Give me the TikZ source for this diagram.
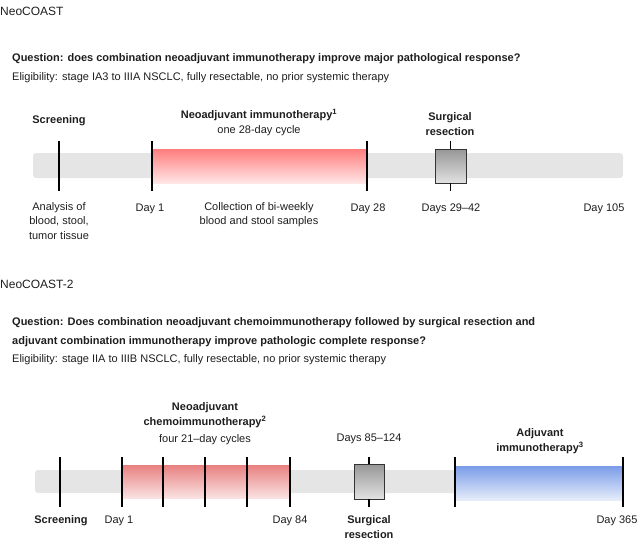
\documentclass[tikz,border=0pt]{standalone}
\usepackage{fontspec}
\setmainfont{Liberation Sans}
\usetikzlibrary{positioning}
\definecolor{barbg}{RGB}{229,229,229}
\definecolor{redtop}{RGB}{255,125,125}
\definecolor{redbot}{RGB}{255,230,230}
\definecolor{redtwotop}{RGB}{232,128,128}
\definecolor{redtwobot}{RGB}{250,226,226}
\definecolor{bluetop}{RGB}{122,156,232}
\definecolor{bluebot}{RGB}{230,237,250}
\definecolor{boxtop}{RGB}{150,150,150}
\definecolor{boxbot}{RGB}{226,226,226}
\definecolor{txt}{RGB}{30,30,30}

\begin{document}
\begin{tikzpicture}[x=1pt,y=-1pt,
  lbl/.style={font=\fontsize{11}{14.5}\selectfont,align=center,inner sep=0pt,text=txt},
  hd/.style={lbl,font=\bfseries\fontsize{11}{15}\selectfont},
  tick/.style={line width=1.8pt},
  stem/.style={line width=1.2pt},
  surgbox/.style={draw=black!80,line width=1pt,top color=boxtop,bottom color=boxbot}]
  \useasboundingbox (0,0) rectangle (642,543);
  % NeoCOAST
  \node[lbl,anchor=base west,font=\fontsize{12}{14}\selectfont] (title1) at (0,16) {NeoCOAST};
  \node[hd,anchor=base west] (quest1) at (12,61) {Question: does combination neoadjuvant immunotherapy improve major pathological response?};
  \node[lbl,anchor=base west] (elig1) at (12,81) {Eligibility: stage IA3 to IIIA NSCLC, fully resectable, no prior systemic therapy};
  \fill[barbg,rounded corners=3] (33,153) rectangle (623,178);
  \shade[top color=redtop,bottom color=redbot] (152,149) rectangle (367,183);
  \draw[surgbox] (435,149) rectangle (466,183);
  \draw[stem] (450.5,141) -- (450.5,149) (450.5,183) -- (450.5,191);
  \foreach \x in {59,152,367}
    \draw[tick] (\x,141) -- (\x,191);
  \node[hd,anchor=base] (scr1) at (59,123) {Screening};
  \node[hd,anchor=base] (neo1) at (259,118) {Neoadjuvant immunotherapy\textsuperscript{1}};
  \node[lbl,anchor=base] (cyc1) at (259,133) {one 28-day cycle};
  \node[hd,anchor=south] (surg1) at (450,136) {Surgical\\resection};
  \node[lbl,anchor=north] (ana1) at (59,202) {Analysis of\\blood, stool,\\tumor tissue};
  \node[lbl,anchor=base] (dayone1) at (150,211) {Day 1};
  \node[lbl,anchor=north] (coll1) at (259,202) {Collection of bi-weekly\\blood and stool samples};
  \node[lbl,anchor=base] (day28) at (368,211) {Day 28};
  \node[lbl,anchor=base] (days2942) at (451,211) {Days 29--42};
  \node[lbl,anchor=base] (day105) at (604,211) {Day 105};
  % NeoCOAST-2
  \node[lbl,anchor=base west,font=\fontsize{12}{14}\selectfont] (title2) at (0,288) {NeoCOAST-2};
  \node[hd,anchor=base west] (quest2) at (12,325) {Question: Does combination neoadjuvant chemoimmunotherapy followed by surgical resection and};
  \node[hd,anchor=base west] (quest2b) at (12,344) {adjuvant combination immunotherapy improve pathologic complete response?};
  \node[lbl,anchor=base west] (elig2) at (12,362) {Eligibility: stage IIA to IIIB NSCLC, fully resectable, no prior systemic therapy};
  \fill[barbg,rounded corners=3] (35,470) rectangle (623,493);
  \shade[top color=redtwotop,bottom color=redtwobot] (122,465) rectangle (290,498);
  \shade[top color=bluetop,bottom color=bluebot] (455,466) rectangle (623,500);
  \draw[surgbox] (354,464) rectangle (384,499);
  \draw[stem] (369,457) -- (369,464) (369,499) -- (369,507);
  \foreach \x in {60,122,163,205,247,290,455,623}
    \draw[tick] (\x,457) -- (\x,507);
  \node[hd,anchor=south] (neo2) at (205,428) {Neoadjuvant\\chemoimmunotherapy\textsuperscript{2}};
  \node[lbl,anchor=base] (cyc2) at (205,442) {four 21--day cycles};
  \node[lbl,anchor=base] (days85) at (369,441) {Days 85--124};
  \node[hd,anchor=south] (adj2) at (540,454) {Adjuvant\\immunotherapy\textsuperscript{3}};
  \node[hd,anchor=base] (scr2) at (61,523) {Screening};
  \node[lbl,anchor=base] (dayone2) at (119,523) {Day 1};
  \node[lbl,anchor=base] (day84) at (290,523) {Day 84};
  \node[hd,anchor=north] (surg2) at (369,515) {Surgical\\resection};
  \node[lbl,anchor=base] (day365) at (617,523) {Day 365};
\end{tikzpicture}
\end{document}
